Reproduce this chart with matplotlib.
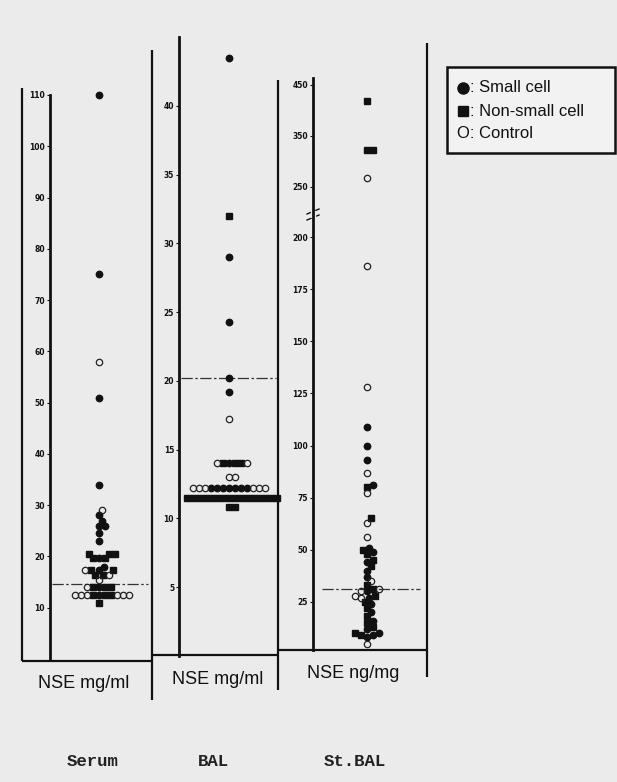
import numpy as np
import matplotlib
matplotlib.use("Agg")
import matplotlib.pyplot as plt

# NSE values
serum_small = [110, 75, 51, 34, 28, 27, 26, 26, 24.5, 23, 19.7, 18, 17.3, 14, 12.5]
serum_nonsmall = [20.5, 20.5, 20.5, 19.7, 19.7, 17.3, 17.3, 16.4, 16.4, 14, 14, 14,
                  12.5, 12.5, 12.5, 11]
serum_control = [58, 29, 17.3, 16.4, 15.5, 14, 12.5, 12.5, 12.5, 12.5, 12.5, 12.5]
serum_cutoff = 14.6
serum_ticks = [10, 20, 30, 40, 50, 60, 70, 80, 90, 100, 110]

bal_small = [43.5, 29, 24.3, 20.2, 19.2, 14, 12.2, 12.2, 12.2, 12.2, 12.2, 12.2, 12.2]
bal_nonsmall = [32, 14, 14, 14] + [11.5] * 16 + [10.8, 10.8]
bal_control = [17.2, 14, 14, 13, 13, 12.2, 12.2, 12.2, 12.2, 12.2, 12.2]
bal_cutoff = 20.2
bal_ticks = [5, 10, 15, 20, 25, 30, 35, 40]

st_small = [109, 100, 93, 81, 51, 49, 44, 40, 37, 30, 27, 24, 20, 16, 12, 10, 9, 8]
st_nonsmall = [418, 322, 322, 80, 65, 50, 48, 45, 42, 33, 31, 28, 25, 22, 18, 15,
               13, 10, 9]
st_control = [267, 186, 128, 87, 77, 63, 56, 35, 31, 30, 28, 27, 5]
st_cutoff = 31
st_ticks = [25, 50, 75, 100, 125, 150, 175, 200, 250, 350, 450]

W, H = 617, 782
BG = "#ebebeb"
fig = plt.figure(figsize=(W / 100, H / 100), dpi=100, facecolor=BG)

# overlay in pixel coordinates for frame lines and labels
ov = fig.add_axes([0, 0, 1, 1], zorder=0)
ov.set_xlim(0, W)
ov.set_ylim(H, 0)
ov.axis("off")
ov.set_facecolor(BG)


def box(l, t, r, b):
    return [l / W, 1 - b / H, (r - l) / W, (b - t) / H]


def vline(x, y0, y1, lw=1.6):
    ov.plot([x, x], [y0, y1], color="#111111", lw=lw, solid_capstyle="butt")


def hline(y, x0, x1, lw=1.6):
    ov.plot([x0, x1], [y, y], color="#111111", lw=lw, solid_capstyle="butt")


# break scale for St.BAL (0-212 linear, compressed above)
B, G, R = 212.0, 2.8, 0.245


def fwd(v):
    v = np.asarray(v, dtype=float)
    return np.where(v <= B, v, B + G + (v - B) * R)


def inv(u):
    u = np.asarray(u, dtype=float)
    return np.where(u <= B, u, B + (u - B - G) / R)


def make_axes(l, t, r, b, ylim, ticks, labels, scale=None):
    ax = fig.add_axes(box(l, t, r, b), zorder=1)
    ax.set_facecolor("none")
    if scale is not None:
        ax.set_yscale("function", functions=scale)
    ax.set_xlim(l, r)
    ax.set_ylim(*ylim)
    for s in ["top", "right", "bottom"]:
        ax.spines[s].set_visible(False)
    ax.spines["left"].set_linewidth(2.0)
    ax.spines["left"].set_color("#111111")
    ax.set_xticks([])
    ax.set_yticks(ticks)
    ax.set_yticklabels(labels)
    ax.yaxis.set_minor_locator(matplotlib.ticker.NullLocator())
    ax.tick_params(axis="y", direction="out", length=2, width=0.8, pad=1.5,
                   labelsize=5.5, colors="#111111")
    for t_ in ax.get_yticklabels():
        t_.set_fontweight("bold")
    return ax


def swarm(ax, small, nonsmall, control, center, d=5.6):
    pts = [(v, 0) for v in small] + [(v, 1) for v in nonsmall] + [(v, 2) for v in control]
    pts.sort(key=lambda p: (p[0], p[1]))
    offsets = [0]
    for k in range(1, 80):
        offsets += [k, -k]
    placed = []
    res = {0: ([], []), 1: ([], []), 2: ([], [])}
    for v, kind in pts:
        py = ax.transData.transform((center, v))[1]
        x = center
        for off in offsets:
            cx = center + off
            if all((cx - px) ** 2 + (py - qy) ** 2 >= d * d for px, qy in placed):
                x = cx
                break
        placed.append((x, py))
        res[kind][0].append(x)
        res[kind][1].append(v)
    ax.plot(res[0][0], res[0][1], "o", ms=4.6, color="#111111", mec="#111111",
            clip_on=False, zorder=3)
    ax.plot(res[1][0], res[1][1], "s", ms=4.0, color="#111111", mec="#111111",
            clip_on=False, zorder=3)
    ax.plot(res[2][0], res[2][1], "o", ms=4.6, mfc="none", mec="#222222", mew=0.9,
            clip_on=False, zorder=3)


def cutoff(ax, y, x0, x1):
    ax.plot([x0, x1], [y, y], color="#333333", lw=0.9, ls=(0, (9, 2, 2, 2)),
            clip_on=False, zorder=2)


# Serum panel
ax1 = make_axes(50, 95, 152, 659, (0, 110), serum_ticks, [str(t) for t in serum_ticks])
swarm(ax1, serum_small, serum_nonsmall, serum_control, 99)
cutoff(ax1, serum_cutoff, 52, 148)

# BAL panel
ax2 = make_axes(179, 37, 278, 656, (0, 45), bal_ticks, [str(t) for t in bal_ticks])
swarm(ax2, bal_small, bal_nonsmall, bal_control, 229, d=5.2)
cutoff(ax2, bal_cutoff, 181, 276)

# St.BAL panel
ax3 = make_axes(313, 78, 427, 650, (1.9, 463), st_ticks, [str(t) for t in st_ticks],
                scale=(fwd, inv))
swarm(ax3, st_small, st_nonsmall, st_control, 367)
cutoff(ax3, st_cutoff, 322, 420)

# frame lines
vline(22, 88, 661)
hline(661, 22, 152)
vline(152, 50, 700)
hline(655, 152, 278)
vline(278, 80, 690)
hline(650, 278, 427)
vline(427, 43, 677)

# axis break marks on St.BAL
ov.plot([307, 319], [214, 209], color="#111111", lw=1.0)
ov.plot([307, 319], [220, 215], color="#111111", lw=1.0)
ov.fill_between([311, 315], [211, 211], [217, 217], color=BG, zorder=5)

sans = ["Liberation Sans", "DejaVu Sans"]
ov.text(84, 683, "NSE mg/ml", fontsize=13, family=sans, ha="center", va="center",
        color="#111111")
ov.text(218, 679, "NSE mg/ml", fontsize=13, family=sans, ha="center", va="center",
        color="#111111")
ov.text(353, 673, "NSE ng/mg", fontsize=13, family=sans, ha="center", va="center",
        color="#111111")

mono = ["Liberation Mono", "DejaVu Sans Mono"]
for x, s in [(93, "Serum"), (213, "BAL"), (355, "St.BAL")]:
    ov.text(x, 762, s, fontsize=12.5, family=mono, weight="bold", ha="center",
            va="center", color="#222222")

# legend box
ov.add_patch(plt.Rectangle((447, 67), 168, 86, fill=True, fc="#f2f2f2",
                           ec="#111111", lw=1.8, zorder=4))
ov.plot([463], [88], "o", ms=8, color="#111111", zorder=6)
ov.plot([463], [111], "s", ms=7, color="#111111", zorder=6)
for x, y, s in [(470, 88, ": Small cell"), (470, 111, ": Non-small cell"),
                (457, 134, "O: Control")]:
    ov.text(x, y, s, fontsize=12, family=sans, ha="left", va="center",
            color="#111111", zorder=6)

fig.savefig("out.png", dpi=100, facecolor=BG)
